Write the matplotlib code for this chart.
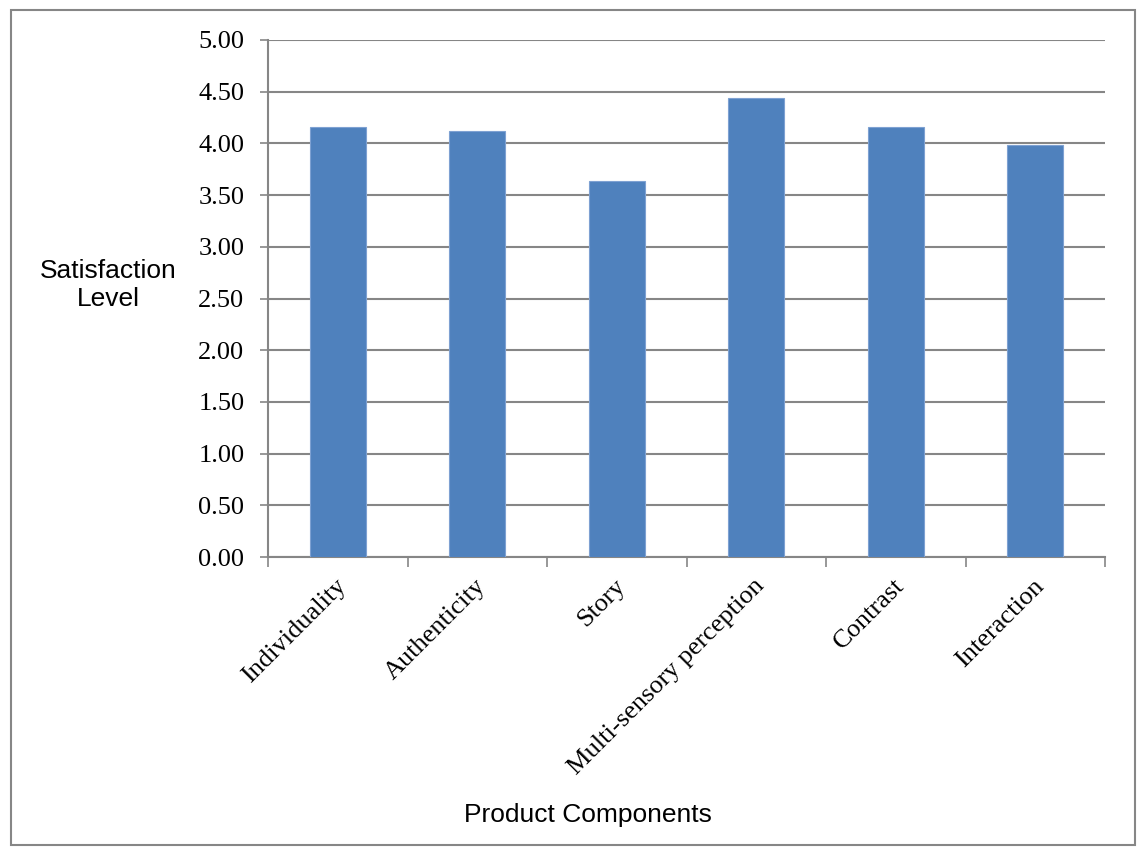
import matplotlib.pyplot as plt
import numpy as np
from matplotlib.patches import Rectangle
from matplotlib.ticker import FixedLocator, NullFormatter

components = ["Individuality", "Authenticity", "Story",
              "Multi-sensory perception", "Contrast", "Interaction"]
satisfaction = [4.16, 4.12, 3.64, 4.44, 4.16, 3.98]
y_ticks = [0.0, 0.5, 1.0, 1.5, 2.0, 2.5, 3.0, 3.5, 4.0, 4.5, 5.0]

grey = "#868686"
serif = "Liberation Serif"
sans = "Liberation Sans"
fs = 19

fig = plt.figure(figsize=(11.37, 8.48), dpi=100)
ax = fig.add_axes([268 / 1137, 1 - 557 / 848, 837 / 1137, 517 / 848])

# chart border
fig.patches.append(Rectangle((11 / 1137, 3 / 848), 1124 / 1137, 835 / 848,
                             transform=fig.transFigure, fill=False,
                             edgecolor=grey, linewidth=1.5))

x = np.arange(len(components))
ax.bar(x, satisfaction, width=0.4, color="#4F81BD", edgecolor="#7EA1D2",
       linewidth=0.8, zorder=3)

ax.set_xlim(-0.5, len(components) - 0.5)
ax.set_ylim(0, 5)

ax.set_yticks(y_ticks)
ax.set_yticklabels([f"{v:.2f}" for v in y_ticks], fontfamily=serif, fontsize=fs)
ax.yaxis.grid(True, color=grey, linewidth=1.5, zorder=0)
ax.tick_params(axis="y", length=6, width=1.2, color=grey, pad=11)

# ticks between categories, labels under the bars
ax.set_xticks(x)
ax.set_xticklabels([])
ax.tick_params(axis="x", which="major", length=0)
ax.xaxis.set_minor_locator(FixedLocator(np.arange(-0.5, len(components), 1.0)))
ax.xaxis.set_minor_formatter(NullFormatter())
ax.tick_params(axis="x", which="minor", length=7, width=1.2, color=grey)

for i, name in enumerate(components):
    ax.annotate(name, xy=(i, 0), xycoords=("data", "axes fraction"),
                xytext=(-2, -13), textcoords="offset points",
                rotation=45, ha="right", va="top", rotation_mode="anchor",
                fontfamily=serif, fontsize=fs)

for side in ["top", "right"]:
    ax.spines[side].set_visible(False)
for side in ["left", "bottom"]:
    ax.spines[side].set_color(grey)
    ax.spines[side].set_linewidth(1.5)

fig.text(108 / 1137, 1 - 285 / 848, "Satisfaction\nLevel", ha="center",
         va="center", fontfamily=sans, fontsize=fs, linespacing=1.25)
fig.text(588 / 1137, 1 - 815 / 848, "Product Components", ha="center",
         va="center", fontfamily=sans, fontsize=fs)

fig.savefig("out.png", dpi=100)
